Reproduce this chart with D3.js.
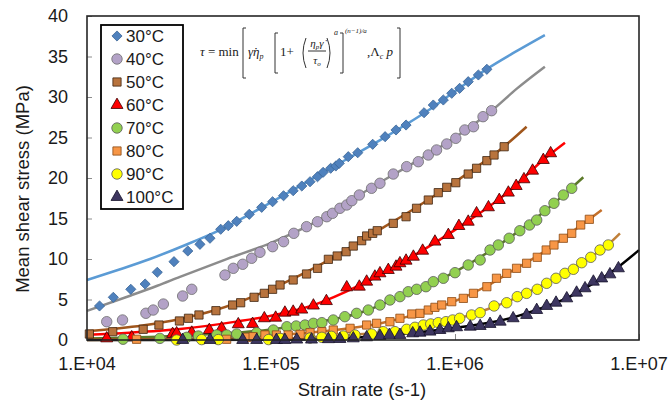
<!DOCTYPE html>
<html><head><meta charset="utf-8">
<script src="https://cdn.jsdelivr.net/npm/d3@7/dist/d3.min.js"></script>
<style>
html,body{margin:0;padding:0;background:#fff;}
svg{display:block;font-family:"Liberation Sans",Arial,sans-serif;}
</style></head><body>
<svg id="chart" width="669" height="406"></svg>
<script>
// ---------- data ----------
const seriesNames = ["30°C","40°C","50°C","60°C","70°C","80°C","90°C","100°C"];
const xTickValues = [1e4,1e5,1e6,1e7];
const xTickLabels = ["1.E+04","1.E+05","1.E+06","1.E+07"];
const yTickValues = [0,5,10,15,20,25,30,35,40];
const xTitle = "Strain rate (s-1)";
const yTitle = "Mean shear stress (MPa)";

const s30 = [[1.17e4,4.2],[1.39e4,5.27],[1.73e4,6.26],[2.07e4,6.91],[2.41e4,8.36],[2.97e4,9.67],[3.53e4,10.99],[4.11e4,11.81],[4.66e4,12.56],[5.33e4,13.67],[5.86e4,14.11],[6.51e4,14.65],[7.62e4,15.52],[8.9e4,16.38],[1.02e5,17.07],[1.17e5,17.81],[1.32e5,18.43],[1.47e5,19.01],[1.63e5,19.54],[1.79e5,20.16],[1.92e5,20.7],[2.11e5,21.2],[2.25e5,21.48],[2.35e5,21.81],[2.63e5,22.63],[2.96e5,23.12],[3.57e5,24.16],[4.17e5,25.1],[4.78e5,25.93],[5.42e5,26.54],[6.79e5,28.06],[7.62e5,29.01],[8.64e5,29.63],[9.6e5,30.46],[1.06e6,31.07],[1.18e6,31.89],[1.34e6,32.72],[1.49e6,33.42]];
const s40 = [[1.28e4,2.26],[1.56e4,2.47],[2.09e4,3.3],[2.29e4,3.7],[2.6e4,4.44],[3.31e4,5.43],[3.71e4,6.26],[5.62e4,8.02],[6.24e4,8.85],[7.02e4,9.35],[7.85e4,10.09],[8.71e4,10.83],[1.02e5,11.52],[1.17e5,12.14],[1.33e5,13.17],[1.56e5,13.99],[1.79e5,14.6],[2.01e5,15.22],[2.16e5,15.64],[2.37e5,16.26],[2.58e5,16.67],[2.75e5,17.2],[3.02e5,17.9],[3.52e5,18.73],[3.91e5,19.35],[4.62e5,20.49],[5.46e5,21.4],[6.32e5,22.01],[7.16e5,22.84],[7.94e5,23.46],[9.02e5,24.2],[1.01e6,24.9],[1.13e6,25.93],[1.26e6,26.33],[1.42e6,27.57],[1.58e6,28.31]];
const s50 = [[1.03e4,0.74],[1.38e4,1.02],[2.02e4,1.32],[2.46e4,1.85],[3.18e4,2.35],[3.56e4,2.68],[4.06e4,3.09],[5.02e4,3.62],[6.19e4,4.32],[6.84e4,4.6],[8.09e4,5.27],[9.2e4,5.76],[1.02e5,6.26],[1.12e5,6.79],[1.32e5,7.41],[1.56e5,8.15],[1.79e5,8.85],[2.05e5,9.96],[2.29e5,10.37],[2.56e5,10.9],[2.8e5,11.6],[3.11e5,12.26],[3.31e5,12.84],[3.57e5,13.17],[3.78e5,13.49],[4.62e5,14.4],[5.42e5,15.22],[6.18e5,16.26],[7.16e5,17.28],[8.11e5,18.19],[9.02e5,18.85],[1.01e6,19.42],[1.18e6,20.49],[1.31e6,21.2],[1.49e6,22.14],[1.63e6,22.84],[1.85e6,23.86]];
const s60 = [[1.28e4,0.2],[1.75e4,0.33],[2.92e4,0.74],[3.07e4,0.82],[3.71e4,0.9],[4.62e4,1.23],[5.39e4,1.44],[6.64e4,1.94],[7.94e4,1.98],[9.2e4,2.68],[1.06e5,2.75],[1.19e5,3.37],[1.32e5,3.49],[1.47e5,3.75],[1.7e5,4.25],[2.0e5,4.8],[2.58e5,6.5],[3.02e5,6.58],[3.31e5,7.2],[3.67e5,7.82],[3.91e5,8.23],[4.34e5,8.64],[4.78e5,9.05],[5.02e5,9.47],[5.42e5,9.79],[5.94e5,10.28],[6.67e5,11.02],[7.78e5,12.14],[9.2e5,12.96],[1.05e6,14.07],[1.18e6,14.6],[1.31e6,15.64],[1.52e6,16.38],[1.74e6,17.28],[1.95e6,18.19],[2.15e6,19.01],[2.37e6,19.84],[2.64e6,20.9],[3.02e6,22.22],[3.31e6,23.05]];
const s70 = [[1.57e4,0.1],[2.49e4,0.2],[3.48e4,0.33],[4.03e4,0.49],[5.07e4,0.62],[5.74e4,0.62],[6.51e4,0.74],[8.36e4,0.9],[1.03e5,1.23],[1.22e5,1.64],[1.37e5,1.73],[1.53e5,1.85],[1.7e5,2.06],[1.89e5,2.14],[2.18e5,2.47],[2.52e5,2.88],[2.92e5,3.29],[3.38e5,3.7],[3.91e5,4.32],[4.43e5,4.94],[5.02e5,5.35],[5.57e5,5.96],[6.19e5,6.26],[6.95e5,6.58],[7.62e5,7.2],[8.64e5,7.62],[1.0e6,8.31],[1.18e6,9.26],[1.37e6,9.88],[1.55e6,11.11],[1.72e6,11.73],[1.97e6,12.56],[2.25e6,13.49],[2.54e6,14.2],[2.78e6,14.81],[3.08e6,15.96],[3.45e6,16.88],[3.88e6,17.9],[4.31e6,18.73]];
const s80 = [[1.86e4,0.09],[5.74e4,0.09],[7.38e4,0.33],[8.0e4,0.41],[9.27e4,0.62],[1.07e5,0.62],[1.24e5,0.62],[1.44e5,0.7],[1.63e5,0.9],[1.89e5,1.03],[2.18e5,1.23],[2.69e5,1.44],[3.31e5,1.85],[3.75e5,2.06],[4.43e5,2.26],[5.02e5,2.68],[5.82e5,3.21],[6.45e5,3.29],[7.16e5,3.7],[7.78e5,4.03],[8.47e5,4.32],[9.6e5,4.73],[1.11e6,5.14],[1.26e6,5.76],[1.49e6,6.58],[1.68e6,7.62],[1.91e6,8.23],[2.16e6,8.85],[2.45e6,9.47],[2.8e6,10.21],[3.13e6,11.11],[3.45e6,11.73],[3.88e6,12.56],[4.31e6,13.17],[4.82e6,14.2],[5.37e6,14.9]];
const s90 = [[3.07e4,0.0],[4.2e4,0.05],[5.17e4,0.05],[9.7e4,0.05],[1.12e5,0.2],[1.63e5,0.25],[1.89e5,0.33],[2.13e5,0.45],[2.47e5,0.49],[2.86e5,0.62],[3.52e5,0.74],[4.07e5,1.03],[4.72e5,1.03],[5.46e5,1.32],[6.06e5,1.57],[6.73e5,1.85],[7.38e5,1.98],[8.11e5,2.14],[8.93e5,2.26],[9.71e5,2.47],[1.06e6,2.68],[1.23e6,3.09],[1.37e6,3.37],[1.63e6,4.2],[1.91e6,4.6],[2.18e6,5.35],[2.45e6,5.76],[2.8e6,6.26],[3.15e6,7.0],[3.54e6,7.62],[3.96e6,8.23],[4.4e6,8.73],[4.88e6,9.54],[5.47e6,10.21],[6.14e6,11.11],[6.81e6,11.73]];
const s100 = [[3.31e4,0],[4.66e4,0],[7.02e4,0],[8.36e4,0],[1.07e5,0],[1.19e5,0],[1.38e5,0.05],[1.66e5,0.05],[2.05e5,0.1],[2.37e5,0.12],[2.8e5,0.2],[3.31e5,0.33],[3.91e5,0.49],[4.4e5,0.62],[5.02e5,0.62],[5.89e5,0.82],[6.45e5,0.9],[7.31e5,1.03],[8.28e5,1.23],[9.2e5,1.44],[1.02e6,1.57],[1.21e6,1.64],[1.37e6,1.73],[1.55e6,1.98],[1.76e6,2.26],[2.07e6,2.68],[2.45e6,3.09],[2.78e6,3.7],[3.15e6,4.2],[3.54e6,4.6],[4.05e6,5.14],[4.58e6,5.84],[5.09e6,6.38],[5.65e6,7.2],[6.27e6,7.6],[6.95e6,8.1],[7.73e6,8.85]];

// model fit curves
const f30 = [[1e4,7.4],[1.5e4,8.7],[2.2e4,10.0],[3.4e4,11.7],[5.3e4,13.6],[1e5,17.0],[2e5,20.9],[4e5,24.8],[7e5,28.2],[1e6,30.7],[1.5e6,33.5],[2.1e6,35.5],[3.08e6,37.65]];
const f40 = [[1e4,3.6],[1.73e4,5.5],[2.41e4,6.7],[3.2e4,7.8],[5.6e4,9.9],[1e5,12.0],[2e5,15.3],[3.5e5,18.8],[6e5,21.9],[1e6,25.0],[1.58e6,28.3],[2.16e6,31.0],[3.08e6,33.74]];
const f50 = [[1e4,1.1],[2e4,1.8],[3.2e4,2.6],[5e4,3.7],[1e5,6.3],[2e5,9.7],[3.5e5,13.0],[6e5,16.2],[1e6,19.5],[1.5e6,22.3],[1.85e6,23.9],[2.45e6,26.33]];
const f60 = [[1e4,0.65],[1.7e4,0.9],[3.2e4,1.35],[6.6e4,2.3],[1e5,3.0],[1.7e5,4.3],[3e5,6.7],[5e5,9.4],[1e6,13.6],[2e6,18.5],[3e6,22.2],[3.96e6,24.36]];
const f70 = [[1e4,0.2],[3e4,0.5],[1e5,1.3],[2e5,2.4],[3e5,3.3],[5e5,5.3],[1e6,8.4],[2e6,12.7],[3e6,15.7],[4.31e6,18.8],[4.98e6,20.09]];
const f80 = [[1e4,0.05],[5e4,0.25],[1e5,0.55],[2e5,1.1],[4e5,2.1],[6e5,3.1],[1e6,4.8],[1.5e6,6.7],[2e6,8.4],[3e6,10.8],[4e6,12.8],[5.37e6,14.9],[6.27e6,16.05]];
const f90 = [[1e4,0],[1e5,0.15],[2e5,0.45],[4e5,0.95],[6e5,1.55],[1e6,2.55],[1.5e6,3.8],[2e6,4.9],[3e6,6.8],[4e6,8.3],[5e6,9.7],[6.81e6,11.8],[7.88e6,13.17]];
const f100 = [[1e4,0],[1e5,0.02],[2e5,0.12],[3e5,0.3],[5e5,0.7],[1e6,1.5],[2e6,2.7],[3e6,4.0],[4e6,5.1],[5e6,6.3],[7e6,8.3],[1e7,11.1]];

// ---------- styles ----------
const series = [
  {name:seriesNames[0], pts:s30,  fit:f30,  sym:d3.symbolDiamond2, size:66, fill:"#4f81bd", stroke:"#3a6496", line:"#5b9bd5"},
  {name:seriesNames[1], pts:s40,  fit:f40,  sym:d3.symbolCircle,   size:86, fill:"#b3a2c7", stroke:"#6f6f6f", line:"#8c8c8c"},
  {name:seriesNames[2], pts:s50,  fit:f50,  sym:d3.symbolSquare,   size:68, fill:"#b8733d", stroke:"#3d2410", line:"#a0561c"},
  {name:seriesNames[3], pts:s60,  fit:f60,  sym:d3.symbolTriangle, size:62, fill:"#ff0000", stroke:"#3a0000", line:"#ff0000"},
  {name:seriesNames[4], pts:s70,  fit:f70,  sym:d3.symbolCircle,   size:86, fill:"#92d050", stroke:"#5a5a5a", line:"#5c7a29"},
  {name:seriesNames[5], pts:s80,  fit:f80,  sym:d3.symbolSquare,   size:68, fill:"#f79646", stroke:"#8a4a14", line:"#c4702a"},
  {name:seriesNames[6], pts:s90,  fit:f90,  sym:d3.symbolCircle,   size:86, fill:"#ffff00", stroke:"#5a5a5a", line:"#c0803a"},
  {name:seriesNames[7], pts:s100, fit:f100, sym:d3.symbolTriangle, size:62, fill:"#3d3660", stroke:"#15122a", line:"#000000"}
];

// ---------- layout ----------
const svg = d3.select("#chart");
const L = 87, R = 639, T = 16, B = 340;
const x = d3.scaleLog().domain([1e4,1e7]).range([L,R]);
const y = d3.scaleLinear().domain([0,40]).range([B,T]);

svg.append("rect").attr("width",669).attr("height",406).attr("fill","#fff");

// ticks (inside)
const yAxis = d3.axisRight(y).tickValues(yTickValues).tickSize(5).tickFormat("");
svg.append("g").attr("transform",`translate(${L},0)`).call(yAxis)
  .call(g=>g.select(".domain").remove())
  .call(g=>g.selectAll("line").attr("stroke","#8c8c8c"));
const xAxis = d3.axisTop(x).tickValues(xTickValues).tickSize(6).tickFormat("");
svg.append("g").attr("transform",`translate(0,${B})`).call(xAxis)
  .call(g=>g.select(".domain").remove())
  .call(g=>g.selectAll("line").attr("stroke","#8c8c8c"));

// tick labels
svg.append("g").selectAll("text").data(yTickValues).join("text")
  .attr("x",68).attr("y",d=>y(d)).attr("dy","0.35em")
  .attr("text-anchor","end").attr("font-size",18).attr("fill","#1a1a1a").text(d=>d);
svg.append("g").selectAll("text").data(xTickValues).join("text")
  .attr("x",d=>x(d)).attr("y",370)
  .attr("text-anchor","middle").attr("font-size",18).attr("fill","#1a1a1a")
  .text((d,i)=>xTickLabels[i]);

// axis titles
svg.append("text").attr("x",362).attr("y",396).attr("text-anchor","middle")
  .attr("font-size",18.5).attr("fill","#1a1a1a").text(xTitle);
svg.append("text").attr("transform","translate(29,189) rotate(-90)").attr("text-anchor","middle")
  .attr("font-size",18.5).attr("fill","#1a1a1a").text(yTitle);

// fit lines
const lineGen = d3.line().x(d=>x(d[0])).y(d=>y(d[1])).curve(d3.curveMonotoneX);
svg.append("g").selectAll("path").data(series).join("path")
  .attr("d",s=>lineGen(s.fit)).attr("fill","none")
  .attr("stroke",s=>s.line).attr("stroke-width",2.5);

// markers
series.forEach(s=>{
  const sym = d3.symbol().type(s.sym).size(s.size);
  svg.append("g").selectAll("path").data(s.pts).join("path")
    .attr("transform",d=>`translate(${x(d[0])},${y(d[1])})`)
    .attr("d",sym).attr("fill",s.fill).attr("stroke",s.stroke).attr("stroke-width",0.8);
});

// plot frame
svg.append("rect").attr("x",L).attr("y",T).attr("width",R-L).attr("height",B-T)
  .attr("fill","none").attr("stroke","#262626").attr("stroke-width",1.6);

// legend
const lg = svg.append("g");
lg.append("rect").attr("x",101).attr("y",25).attr("width",82).attr("height",184)
  .attr("fill","#fff").attr("stroke","#000").attr("stroke-width",1.8);
series.forEach((s,i)=>{
  const cy = 36 + i*23;
  lg.append("path").attr("transform",`translate(117,${cy})`)
    .attr("d",d3.symbol().type(s.sym).size(s.size)).attr("fill",s.fill)
    .attr("stroke",s.stroke).attr("stroke-width",0.8);
  lg.append("text").attr("x",126).attr("y",cy).attr("dy","0.36em")
    .attr("font-size",17).attr("fill","#1a1a1a").text(s.name);
});

// formula
const fg = svg.append("g").attr("font-family","'Liberation Serif','DejaVu Serif',serif").attr("fill","#222");
fg.append("text").attr("x",200).attr("y",56).attr("font-size",13)
  .html('<tspan font-style="italic">τ</tspan> = min');
const br = "#333";
fg.append("path").attr("d","M246,28H243V78H246").attr("fill","none").attr("stroke",br);
fg.append("path").attr("d","M397,28H400V78H397").attr("fill","none").attr("stroke",br);
fg.append("path").attr("d","M278,33H275V73H278").attr("fill","none").attr("stroke",br);
fg.append("path").attr("d","M340,33H343V73H340").attr("fill","none").attr("stroke",br);
fg.append("text").attr("x",248).attr("y",56).attr("font-size",13).attr("font-style","italic")
  .html('γ̇η<tspan font-size="8" dy="3">p</tspan>');
fg.append("text").attr("x",280).attr("y",56).attr("font-size",13).text("1+");
fg.append("path").attr("d","M306,38Q300,53 306,68").attr("fill","none").attr("stroke",br);
fg.append("path").attr("d","M327,38Q333,53 327,68").attr("fill","none").attr("stroke",br);
fg.append("text").attr("x",317).attr("y",47).attr("font-size",11).attr("font-style","italic").attr("text-anchor","middle")
  .html('η<tspan font-size="7" dy="2">p</tspan><tspan dy="-2">γ̇</tspan>');
fg.append("path").attr("d","M308,51H326").attr("stroke",br);
fg.append("text").attr("x",317).attr("y",64).attr("font-size",11).attr("font-style","italic").attr("text-anchor","middle")
  .html('τ<tspan font-size="7" dy="2">o</tspan>');
fg.append("text").attr("x",334).attr("y",35).attr("font-size",8).attr("font-style","italic").text("a");
fg.append("text").attr("x",345).attr("y",33).attr("font-size",7).attr("font-style","italic").text("(n−1)/a");
fg.append("text").attr("x",367).attr("y",56).attr("font-size",13)
  .html(',Λ<tspan font-size="8" dy="3" font-style="italic">c</tspan><tspan dy="-3" font-style="italic"> p</tspan>');
</script>
</body></html>
